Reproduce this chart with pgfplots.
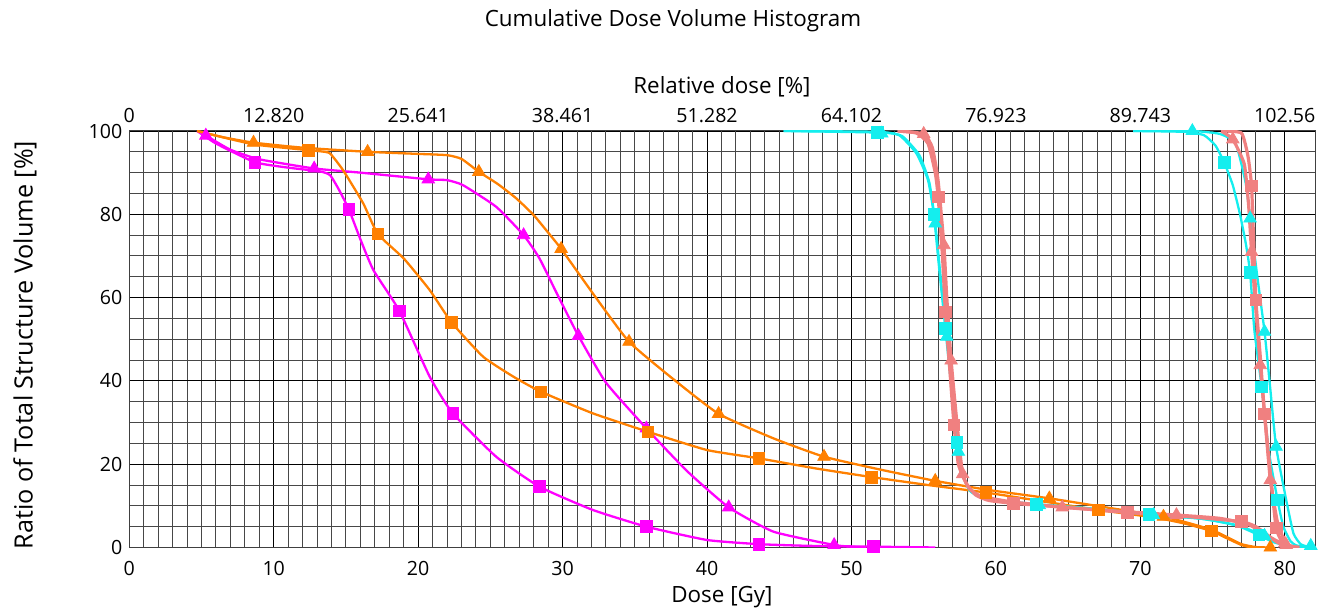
\documentclass[border=0pt]{standalone}
\usepackage{pgfplots}
\pgfplotsset{compat=1.18}
\usepackage{fontspec}
\setmainfont{Open Sans}

\definecolor{dvhorange}{RGB}{255,128,0}
\definecolor{dvhmag}{RGB}{255,0,255}
\definecolor{dvhpink}{RGB}{240,128,128}
\definecolor{dvhcyan}{RGB}{20,238,238}

\pgfplotsset{
  dvhline/.style={#1, line width=1.15pt, no marks, smooth, tension=0.3},
  dvhsq/.style={only marks, mark=square*, mark size=2.9pt, mark options={fill=#1, draw=#1}},
  dvhtri/.style={only marks, mark=triangle*, mark size=3.6pt, mark options={fill=#1, draw=#1}},
}

\begin{document}
\begin{tikzpicture}[x=1pt,y=1pt]
\useasboundingbox (-64.65,-30.75) rectangle (599.85,273.75);

% top axis: relative dose
\begin{axis}[
  at={(0,0)}, anchor=south west,
  scale only axis, width=592.9pt, height=208.25pt,
  xmin=0, xmax=82.1, ymin=0, ymax=100,
  axis x line*=top, axis y line=none,
  xtick={0,10,...,80},
  xticklabels={0,12.820,25.641,38.461,51.282,64.102,76.923,89.743,102.56},
  major tick length=0pt,
  tick label style={font=\fontsize{9.8}{11}\selectfont},
  xticklabel style={yshift=0.5pt},
  /pgf/number format/assume math mode=true,
]
\end{axis}

\begin{axis}[
  at={(0,0)}, anchor=south west,
  scale only axis, width=592.9pt, height=208.25pt,
  xmin=0, xmax=82.1, ymin=0, ymax=100,
  xtick={0,10,...,80}, ytick={0,20,...,100},
  minor x tick num=9, minor y tick num=3,
  grid=both,
  major grid style={black, line width=0.5pt},
  minor grid style={black!72, line width=0.5pt},
  axis line style={black!75, line width=0.5pt},
  major tick length=0pt, minor tick length=0pt,
  tick label style={font=\fontsize{9.8}{11}\selectfont},
  xticklabel style={yshift=-3.5pt},
  /pgf/number format/assume math mode=true,
  clip=true,
]

% ---- magenta, squares
\addplot[dvhline=dvhmag] coordinates {
(4.7,100) (6,97) (8.7,92.5) (11,91.2) (13.2,90.3) (13.9,89.4) (14.5,86) (15.2,81.2)
(16,74) (16.9,66.6) (18.7,56.8) (20.8,41) (22.4,32.2) (25.4,21.8) (28.4,14.6)
(32.1,9.0) (35.8,5.0) (40.0,1.8) (43.6,0.8) (47,0.4) (51.5,0.2) (55.8,0)
};
\addplot[dvhsq=dvhmag] coordinates {
(8.7,92.5) (15.2,81.2) (18.7,56.8) (22.4,32.2) (28.4,14.6) (35.8,5.0) (43.6,0.8) (51.5,0.2)
};

% ---- magenta, triangles
\addplot[dvhline=dvhmag] coordinates {
(4.7,100) (5.3,98.9) (7,95.5) (9,93.2) (12.8,91.0) (16,90) (20.7,88.4) (22,88.2)
(23.1,87.0) (25.4,81.8) (27.3,75.0) (28.4,69.4) (29.6,61) (31.1,50.8) (33.0,39.6)
(35.8,28.6) (38.6,18.4) (41.5,9.65) (44.6,3.8) (48.8,0.6) (50,0.2) (51,0)
};
\addplot[dvhtri=dvhmag] coordinates {
(5.3,98.9) (12.8,91.0) (20.7,88.4) (27.3,75.0) (31.1,50.8) (35.8,28.6) (41.5,9.65) (48.8,0.6)
};

% ---- orange, squares
\addplot[dvhline=dvhorange] coordinates {
(4.7,100) (8.6,96.8) (12.4,95.4) (13.3,95.1) (13.9,94.6) (14.8,90.6) (16.2,82.6)
(17.2,75.3) (19.0,69.4) (20.8,61.8) (22.3,54.1) (24.5,45.8) (26.6,41.0) (28.5,37.4)
(32.1,32.2) (35.9,27.8) (40.0,23.4) (43.6,21.4) (47.5,19.0) (51.4,16.9) (55.3,15.0)
(59.3,13.2) (63.2,11.1) (67.1,9.0) (71,7.2) (73,5.8) (74.9,4.0) (76,2.2) (77,0.6)
(77.6,0.1) (78.5,0)
};
\addplot[dvhsq=dvhorange] coordinates {
(12.4,95.4) (17.2,75.3) (22.3,54.1) (28.5,37.4) (35.9,27.8) (43.6,21.4) (51.4,16.9)
(59.3,13.2) (67.1,9.0) (74.9,4.0)
};

% ---- orange, triangles
\addplot[dvhline=dvhorange] coordinates {
(4.7,100) (6.5,98.5) (8.6,97.2) (12,96.0) (16.5,95.0) (20,94.5) (22,94.2) (23,93.3)
(24.2,90.2) (25.5,87.3) (26.8,83.8) (28,79.8) (29,75.6) (29.9,71.7) (32.2,60.5) (34.6,49.4)
(37.6,40.6) (40.8,32.1) (44.6,26.2) (48.1,21.8) (52,18.7) (55.8,16.0) (59.5,13.8)
(63.7,11.8) (67.5,9.7) (71.6,7.4) (73,6.2) (74.9,4.3) (76,2.5) (77,0.8) (78,0.1) (79,0)
};
\addplot[dvhtri=dvhorange] coordinates {
(8.6,97.2) (16.5,95.0) (24.2,90.2) (29.9,71.7) (34.6,49.4) (40.8,32.1) (48.1,21.8)
(55.8,16.0) (63.7,11.8) (71.6,7.4) (79.0,0)
};

% ---- cyan, low-dose target, squares
\addplot[dvhline=dvhcyan] coordinates {
(45.3,100) (51.8,99.8) (53.3,99.0) (54.5,94.6) (55.3,88.2) (55.7,80.0) (56.1,66)
(56.5,52.6) (56.9,39) (57.3,25.2) (57.7,17.5) (58.2,13.6) (59,12) (60.5,11.2)
(62.8,10.4) (66.5,9.4) (70.6,8.0) (74,7.0) (76.5,5.5) (78.2,3.0) (79.2,1.3)
(80.3,0.3) (81.5,0)
};
\addplot[dvhsq=dvhcyan] coordinates {
(51.8,99.6) (55.7,80.0) (56.5,52.6) (57.3,25.2) (62.8,10.4) (70.6,8.0) (78.2,3.0)
};

% ---- cyan, low-dose target, triangles
\addplot[dvhline=dvhcyan] coordinates {
(45.3,100) (52.1,99.6) (53.5,98.8) (54.7,94.2) (55.4,87.5) (55.8,77.8) (56.2,64)
(56.6,50.6) (57.0,37) (57.4,23.0) (57.8,16.5) (58.3,13.4) (59.2,11.8) (61,10.9)
(63.0,10.2) (67,9.2) (70.9,7.8) (74.5,6.8) (77,5) (78.6,2.8) (79.5,1.4) (80.5,0.3)
(81.5,0)
};
\addplot[dvhtri=dvhcyan] coordinates {
(52.1,99.4) (55.8,77.8) (56.6,50.6) (57.4,23.0) (63.0,10.2) (70.9,7.8) (78.6,2.8)
};

% ---- cyan, high-dose target, squares
\addplot[dvhline=dvhcyan] coordinates {
(69.5,100) (73.0,99.8) (74.4,99.0) (75.2,96.5) (75.8,92.5) (76.4,87) (76.9,80)
(77.3,73) (77.6,66.0) (77.9,52) (78.4,38.6) (78.9,23) (79.5,11.4) (79.9,5)
(80.4,1.5) (80.8,0.5) (81.5,0.1) (82.1,0)
};
\addplot[dvhsq=dvhcyan] coordinates {
(75.8,92.5) (77.6,66.0) (78.4,38.6) (79.5,11.4)
};

% ---- cyan, high-dose target, triangles
\addplot[dvhline=dvhcyan] coordinates {
(69.5,100) (73.6,100) (75.5,99.3) (76.6,97.0) (77.3,87.4) (77.6,79.0) (78.1,65)
(78.6,51.8) (79.0,38) (79.4,24.2) (80.1,11.4) (80.6,3.4) (81.1,0.8) (81.7,0.1)
(82.1,0)
};
\addplot[dvhtri=dvhcyan] coordinates {
(73.6,100) (77.6,79.0) (78.6,51.8) (79.4,24.2) (81.8,0.4)
};

% ---- pink, low-dose target, squares
\addplot[dvhline=dvhpink, line width=1.6pt] coordinates {
(53.2,100) (54.5,99.5) (55.3,97) (55.8,90) (56.0,84.2) (56.3,70) (56.5,56.6)
(56.8,43) (57.1,29.4) (57.4,20) (57.95,15.4) (58.6,12.6) (59.5,11.3) (61.2,10.6)
(65,9.6) (69.1,8.4) (73,7.5) (77.0,6.2) (78,5) (78.8,3) (79.5,1.2) (80.3,0.2) (81,0)
};
\addplot[dvhsq=dvhpink] coordinates {
(56.0,84.2) (56.5,56.6) (57.1,29.4) (61.2,10.6) (69.1,8.4) (77.0,6.2)
};

% ---- pink, low-dose target, triangles
\addplot[dvhline=dvhpink, line width=1.6pt] coordinates {
(53.2,100) (55.0,99.3) (55.6,96) (56.0,88) (56.4,72.6) (56.6,60) (56.9,44.9)
(57.3,30) (57.7,17.6) (58.2,14) (59,12.3) (61,11) (64.6,9.65) (68,8.8) (72.5,7.8)
(75.5,7) (77.5,5.5) (78.7,3) (79.5,1.5) (80.0,1.0) (80.5,0.3) (81,0)
};
\addplot[dvhtri=dvhpink] coordinates {
(55.0,99.3) (56.4,72.6) (56.9,44.9) (57.7,17.6) (64.6,9.65) (72.5,7.8) (80.0,1.0)
};

% ---- pink, high-dose target, squares
\addplot[dvhline=dvhpink, line width=1.6pt] coordinates {
(75.6,100) (77.0,99.5) (77.45,94) (77.7,86.8) (77.85,73) (78.0,59.4) (78.3,46)
(78.6,32.1) (79.0,18) (79.4,4.75) (79.8,1.5) (80.3,0.3) (81,0)
};
\addplot[dvhsq=dvhpink] coordinates {
(77.7,86.8) (78.0,59.4) (78.6,32.1) (79.4,4.75)
};

% ---- pink, high-dose target, triangles
\addplot[dvhline=dvhpink, line width=1.6pt] coordinates {
(75.6,100) (76.4,98.0) (77.2,92) (77.5,82) (77.7,71.0) (78.0,57) (78.3,43.8)
(78.65,30) (79.0,16.2) (79.5,6) (80.1,0.6) (80.5,0.1) (81,0)
};
\addplot[dvhtri=dvhpink] coordinates {
(76.4,98.0) (77.7,71.0) (78.3,43.8) (79.0,16.2) (80.1,0.6)
};

\end{axis}

\node[font=\fontsize{11.2}{13}\selectfont] at (271.85,263.5) {Cumulative Dose Volume Histogram};
\node[font=\fontsize{11.2}{13}\selectfont] at (296.35,230.25) {Relative dose [\%]};
\node[font=\fontsize{11.2}{13}\selectfont] at (296.35,-25.0) {Dose [Gy]};
\node[font=\fontsize{12.6}{14}\selectfont, rotate=90] at (-52.15,101.25) {Ratio of Total Structure Volume [\%]};
\end{tikzpicture}
\end{document}
